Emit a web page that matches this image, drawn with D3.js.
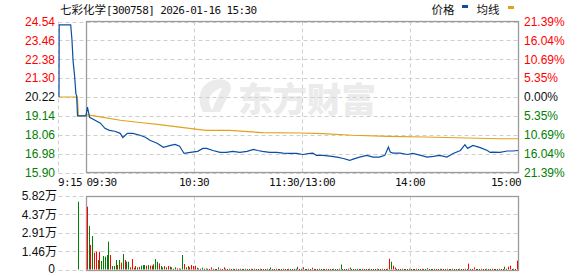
<!DOCTYPE html>
<html><head><meta charset="utf-8">
<script src="https://cdn.jsdelivr.net/npm/d3@7"></script>
<style>body{margin:0;background:#fff}svg{display:block}</style>
</head><body>
<svg id="c" width="578" height="276"></svg>
<script>
// ---------- DATA ----------
const titleName = "七彩化学";
const titleRest = "[300758] 2026-01-16 15:30";
const prevClose = 20.22;
const priceTicks = [24.54, 23.46, 22.38, 21.30, 20.22, 19.14, 18.06, 16.98, 15.90];
const pctLabels = ["21.39%", "16.04%", "10.69%", "5.35%", "0.00%", "5.35%", "10.69%", "16.04%", "21.39%"];
const volTicks = [5.82, 4.37, 2.91, 1.46, 0];
const volLabels = ["5.82万", "4.37万", "2.91万", "1.46万", "0"];
const timeTicks = [-15, 0, 60, 120, 180, 240];
const timeLabels = ["9:15", "09:30", "10:30", "11:30/13:00", "14:00", "15:00"];
// minutes from 09:30 (negative = 09:15 call auction), price
const priceSeries = [
  [-15, 20.22], [-14.9, 24.35], [-8.5, 24.35], [-7.8, 23.5], [-7.2, 22.3], [-6.4, 21.5], [-5.6, 20.4],
  [-5.2, 20.3], [-4.7, 19.14], [0, 19.14], [0.8, 19.64], [2, 19.06], [5, 18.89], [8, 18.72], [10.5, 18.43],
  [13, 18.31], [16, 18.26], [19, 18.14], [20.5, 17.90], [23, 18.14], [26, 18.14], [30, 18.03], [33, 17.92],
  [35.5, 17.74], [39.5, 17.57], [43, 17.34], [47, 17.45], [49.5, 17.51], [52, 17.40], [54.5, 16.99],
  [58, 17.05], [62, 17.11], [65, 17.28], [67, 17.28], [70.5, 17.16], [74.5, 17.05], [78, 17.05],
  [81.5, 17.11], [85.5, 17.05], [89.5, 17.11], [93, 17.22], [95.5, 17.16], [98, 17.11], [102, 17.05],
  [106, 17.05], [109.5, 17.01], [113, 16.99], [117, 16.99], [120.5, 16.93], [124.5, 16.99], [126, 17.01],
  [128, 16.88], [131.5, 16.88], [135.5, 16.84], [139.5, 16.78], [143, 16.70], [146.5, 16.59], [148, 16.65],
  [152, 16.78], [156, 16.88], [159.5, 16.78], [163, 16.78], [166, 16.88], [168, 17.35], [169, 17.07],
  [170.5, 17.01], [174.5, 17.01], [178.5, 16.93], [181.5, 16.99], [185.5, 16.89], [189.5, 16.78],
  [193, 16.82], [196.5, 16.88], [200.5, 16.78], [204, 16.99], [208, 17.16], [210.5, 17.49], [212, 17.28],
  [215, 17.45], [219, 17.32], [223, 17.16], [224.5, 17.05], [226, 17.07], [230, 17.05], [234, 17.13],
  [237, 17.13], [240, 17.16]
];
const avgSeries = [
  [-15, 20.22], [-4.8, 20.22], [-4.2, 19.14], [0, 19.14], [0.1, 19.23], [2, 19.18], [8, 19.08],
  [19, 18.89], [30, 18.76], [41, 18.64], [52, 18.50], [62, 18.37], [67, 18.31], [80, 18.31], [98, 18.18],
  [119, 18.16], [131.5, 18.12], [148, 18.03], [168, 17.97], [188, 17.93], [230, 17.83], [240, 17.83]
];
// volume (万) for minutes 1..240
const volumes = [
  4.98,3.46,1.97,2.67,1.36,1.44,0.79,1.44,0.71,1.10,1.05,1.18,2.23,1.18,0.31,0.31,0.79,0.39,0.79,0.58,
  1.26,0.79,0.65,0.65,0.21,0.86,0.18,0.31,0.21,0.24,0.34,0.39,0.39,0.34,0.39,0.34,0.34,0.45,0.86,0.65,
  0.52,0.31,0.21,0.31,0.21,0.31,0.26,0.21,0.10,0.21,0.13,0.12,0.10,1.18,0.47,0.21,0.31,0.21,0.39,0.31,
  0.34,0.18,0.12,0.10,0.18,0.10,0.12,0.10,0.08,0.21,0.10,0.08,0.08,0.21,0.10,0.08,0.21,0.10,0.08,0.10,
  0.08,0.10,0.06,0.10,0.08,0.10,0.06,0.08,0.10,0.08,0.06,0.10,0.08,0.10,0.06,0.08,0.10,0.08,0.06,0.08,
  0.10,0.08,0.20,0.08,0.06,0.10,0.08,0.06,0.08,0.10,0.06,0.08,0.10,0.08,0.06,0.08,0.10,0.25,0.08,0.10,
  0.21,0.08,0.06,0.10,0.08,0.18,0.08,0.06,0.08,0.10,0.06,0.08,0.06,0.10,0.08,0.06,0.08,0.10,0.08,0.06,
  0.10,0.43,0.08,0.06,0.08,0.10,0.18,0.08,0.06,0.08,0.10,0.06,0.08,0.10,0.06,0.08,0.06,0.10,0.08,0.06,
  0.08,0.10,0.06,0.08,0.10,0.06,0.08,0.10,0.89,0.65,0.34,0.20,0.08,0.06,0.08,0.10,0.06,0.08,0.06,0.10,
  0.08,0.06,0.08,0.10,0.06,0.08,0.10,0.06,0.08,0.15,0.08,0.06,0.08,0.10,0.06,0.08,0.10,0.08,0.06,0.08,
  0.10,0.06,0.08,0.10,0.08,0.06,0.08,0.10,0.06,0.08,0.10,0.08,0.50,0.08,0.06,0.20,0.08,0.06,0.08,0.10,
  0.06,0.08,0.10,0.06,0.08,0.10,0.08,0.06,0.08,0.10,0.08,0.08,0.26,0.10,0.26,0.34,0.08,0.10,0.06,0.73
];
const volDir = (
  "rgrgrrgrgggggrgggrgr" + "grggrrgrgrgggrgrgrgg" + "rggrgrgrggrrggrgrgrr" + "rgrggrggrrgrggrrrgrg" +
  "rgrgrgrggrgrgrrgrgrg" + "rggrgrgrgrrgrgrgrgrg" + "rgrgrrgrgrgrgrgrgrgg" + "rggrgrgrgrgrgrgrgrgr" +
  "grgrgrgrrgrrgrgrgrgr" + "grgrgrgrggrgrgrgrgrg" + "rgrgrgrgrgrgrgrrgrgr" + "grgrgrgrgrgrgrrrggrr"
).split("");
const auctionVolume = [[-4, 5.37, "g"]];

// ---------- LAYOUT ----------
const svg = d3.select("#c");
const x = d3.scaleLinear().domain([-15, 240]).range([59, 518]);
const yP = d3.scaleLinear().domain([15.90, 24.54]).range([172.5, 21.5]);
const yV = d3.scaleLinear().domain([0, 5.82]).range([270.5, 196.5]);
const leftEdge = 58.5, mainL = 86.5, mainR = 518.5;
const RED = "#ff0000", GREEN = "#008000", BLUE = "#0b4fa3", GOLD = "#e2a21a";
const gridC = "#cfcfcf", borderC = "#9a9a9a";
const sans = "'Liberation Sans', Arial, sans-serif";
const mono = "'DejaVu Sans Mono', 'Liberation Mono', monospace";
const cjk = "'Noto Sans CJK SC', sans-serif";

// watermark
const wm = svg.append("g").attr("fill", "#ebebeb");
wm.append("path").attr("d", "M203,112 C196,98 200,84 214,80 C226,77 234,84 230,92 L220,112 Z M214,92 C208,96 208,104 212,110 L222,88 C220,88 216,90 214,92 Z")
  .attr("fill-rule", "evenodd");
wm.append("text").attr("x", 238).attr("y", 112).attr("font-family", cjk).attr("font-weight", 900)
  .attr("font-size", 34).attr("textLength", 138).attr("lengthAdjust", "spacingAndGlyphs").text("东方财富");

// grid
const grid = svg.append("g").attr("stroke", gridC).attr("stroke-width", 1).attr("stroke-dasharray", "4,3").attr("fill", "none");
priceTicks.forEach(t => grid.append("line").attr("x1", leftEdge).attr("x2", mainR)
  .attr("y1", Math.round(yP(t)) + 0.5).attr("y2", Math.round(yP(t)) + 0.5));
[60, 120, 180].forEach(m => grid.append("line").attr("x1", Math.round(x(m)) + 0.5).attr("x2", Math.round(x(m)) + 0.5)
  .attr("y1", 21.5).attr("y2", 172.5));
grid.append("line").attr("x1", leftEdge).attr("x2", leftEdge).attr("y1", 21.5).attr("y2", 172.5);
volTicks.forEach(t => grid.append("line").attr("x1", leftEdge).attr("x2", mainR)
  .attr("y1", Math.round(yV(t) - 0.5) + 0.5).attr("y2", Math.round(yV(t) - 0.5) + 0.5));
[60, 120, 180].forEach(m => grid.append("line").attr("x1", Math.round(x(m)) + 0.5).attr("x2", Math.round(x(m)) + 0.5)
  .attr("y1", 196.5).attr("y2", 270.5));

// borders
svg.append("rect").attr("x", mainL).attr("y", 21.5).attr("width", mainR - mainL).attr("height", 151)
  .attr("fill", "none").attr("stroke", borderC).attr("stroke-width", 1.3);
svg.append("rect").attr("x", mainL).attr("y", 196.5).attr("width", mainR - mainL).attr("height", 74)
  .attr("fill", "none").attr("stroke", borderC).attr("stroke-width", 1.3);

// volume bars
const bars = volumes.map((v, i) => ({ m: i + 1, v, d: volDir[i] }))
  .concat(auctionVolume.map(a => ({ m: a[0], v: a[1], d: a[2] })));
svg.append("g").selectAll("rect").data(bars).join("rect")
  .attr("x", d => Math.floor(x(d.m) - 0.5))
  .attr("width", 1)
  .attr("y", d => Math.min(yV(d.v), 269.5) - 0.5)
  .attr("height", d => Math.max(270 - Math.min(yV(d.v), 269.5), 1))
  .attr("fill", d => d.d === "r" ? RED : GREEN);

// lines
const line = d3.line().x(d => x(d[0])).y(d => yP(d[1]));
svg.append("path").datum(avgSeries).attr("d", line).attr("fill", "none").attr("stroke", GOLD).attr("stroke-width", 1.2);
svg.append("path").datum(priceSeries).attr("d", line).attr("fill", "none").attr("stroke", BLUE).attr("stroke-width", 1.2);

// left price axis labels
const ax = svg.append("g").attr("font-family", sans).attr("font-size", 12);
priceTicks.forEach((t, i) => {
  const c = t > prevClose ? RED : (t < prevClose ? GREEN : "#111");
  ax.append("text").attr("x", 55).attr("y", yP(t) + 4.3).attr("text-anchor", "end").attr("fill", c).text(t.toFixed(2));
  ax.append("text").attr("x", 524).attr("y", yP(t) + 4.3).attr("fill", c).text(pctLabels[i]);
});
// volume labels
volTicks.forEach((t, i) => {
  const g = ax.append("text").attr("x", t === 0 ? 55 : 57).attr("y", t === 0 ? 272.5 : yV(t) + 3.8)
    .attr("text-anchor", "end").attr("fill", "#111");
  const s = volLabels[i];
  if (s.endsWith("万")) {
    g.append("tspan").text(s.slice(0, -1));
    g.append("tspan").attr("font-family", cjk).attr("font-size", 12).text("万");
  } else g.text(s);
});
// time labels
const tx = svg.append("g").attr("font-family", mono).attr("font-size", 11).attr("letter-spacing", -0.6).attr("fill", "#111");
timeTicks.forEach((m, i) => {
  let anchor = "middle", px = x(m);
  if (i === 0) { anchor = "start"; px = 58; }
  if (i === 1) { anchor = "start"; px = 86.5; }
  if (i === timeTicks.length - 1) { anchor = "end"; px = 521; }
  tx.append("text").attr("x", px).attr("y", 186).attr("text-anchor", anchor).text(timeLabels[i]);
});

// title
const tt = svg.append("text").attr("x", 60).attr("y", 14).attr("fill", "#111");
tt.append("tspan").attr("font-family", cjk).attr("font-size", 11.5).text(titleName);
tt.append("tspan").attr("font-family", mono).attr("font-size", 11).attr("letter-spacing", -0.6).text(titleRest);

// legend
const lg = svg.append("g").attr("font-family", cjk).attr("font-size", 11.5).attr("fill", "#111");
lg.append("text").attr("x", 431.5).attr("y", 14).text("价格");
lg.append("rect").attr("x", 462).attr("y", 5).attr("width", 6).attr("height", 3).attr("fill", BLUE);
lg.append("text").attr("x", 476.5).attr("y", 14).text("均线");
lg.append("rect").attr("x", 508).attr("y", 6).attr("width", 6).attr("height", 3).attr("fill", GOLD);
</script>
</body></html>
